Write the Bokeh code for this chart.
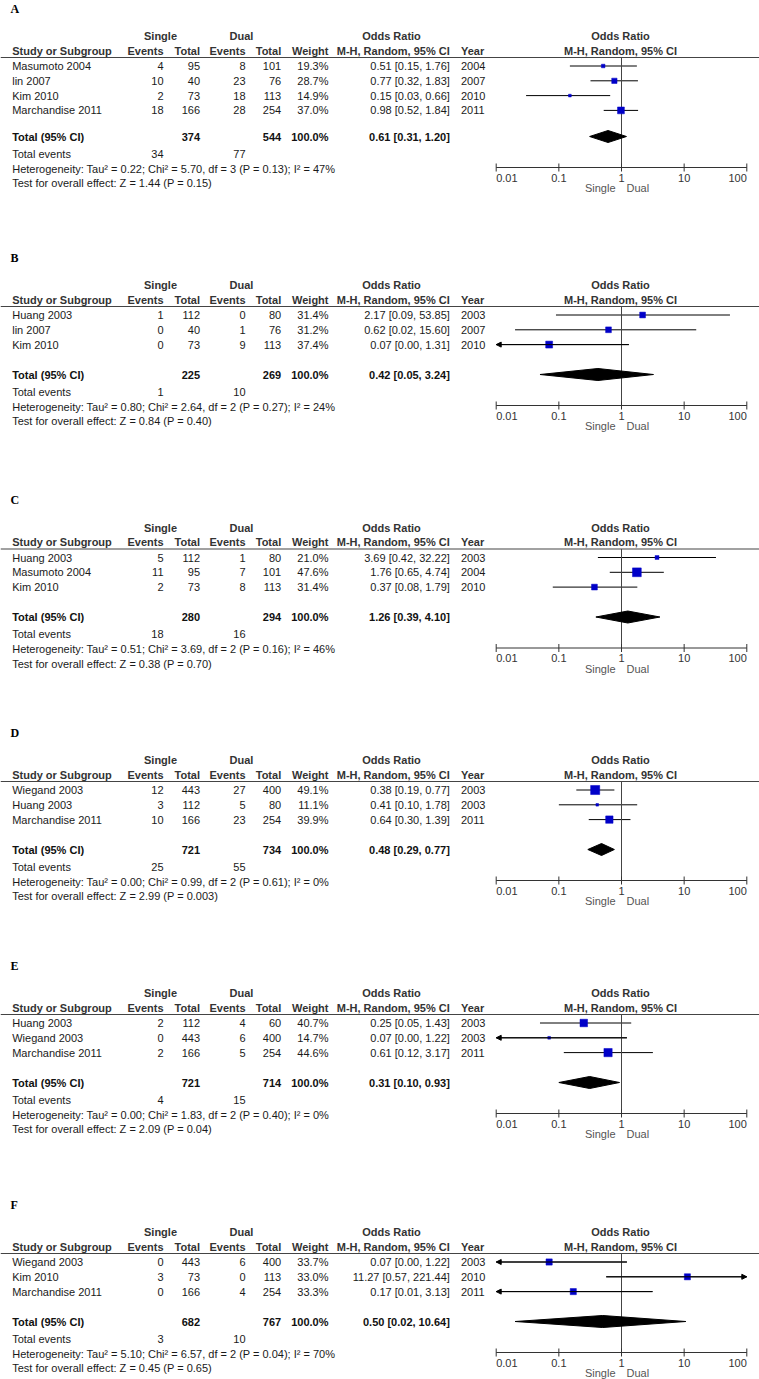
from bokeh.plotting import figure
from bokeh.models import Range1d, LogScale, ColumnDataSource, Arrow, NormalHead
from bokeh.core.properties import value
from bokeh.embed import file_html
from bokeh.resources import INLINE

# ---------------- data ----------------
# Panel A
A_study = ["Masumoto 2004", "lin 2007", "Kim 2010", "Marchandise 2011"]
A_ev_single = [4, 10, 2, 18]
A_tot_single = [95, 40, 73, 166]
A_ev_dual = [8, 23, 18, 28]
A_tot_dual = [101, 76, 113, 254]
A_weight = [19.3, 28.7, 14.9, 37.0]
A_or = [0.51, 0.77, 0.15, 0.98]
A_lo = [0.15, 0.32, 0.03, 0.52]
A_hi = [1.76, 1.83, 0.66, 1.84]
A_year = [2004, 2007, 2010, 2011]
A_totals = [374, 544]
A_pooled = [0.61, 0.31, 1.20]
A_events = [34, 77]
A_het = "Heterogeneity: Tau\u00b2 = 0.22; Chi\u00b2 = 5.70, df = 3 (P = 0.13); I\u00b2 = 47%"
A_test = "Test for overall effect: Z = 1.44 (P = 0.15)"

# Panel B
B_study = ["Huang 2003", "lin 2007", "Kim 2010"]
B_ev_single = [1, 0, 0]
B_tot_single = [112, 40, 73]
B_ev_dual = [0, 1, 9]
B_tot_dual = [80, 76, 113]
B_weight = [31.4, 31.2, 37.4]
B_or = [2.17, 0.62, 0.07]
B_lo = [0.09, 0.02, 0.00]
B_hi = [53.85, 15.60, 1.31]
B_year = [2003, 2007, 2010]
B_totals = [225, 269]
B_pooled = [0.42, 0.05, 3.24]
B_events = [1, 10]
B_het = "Heterogeneity: Tau\u00b2 = 0.80; Chi\u00b2 = 2.64, df = 2 (P = 0.27); I\u00b2 = 24%"
B_test = "Test for overall effect: Z = 0.84 (P = 0.40)"

# Panel C
C_study = ["Huang 2003", "Masumoto 2004", "Kim 2010"]
C_ev_single = [5, 11, 2]
C_tot_single = [112, 95, 73]
C_ev_dual = [1, 7, 8]
C_tot_dual = [80, 101, 113]
C_weight = [21.0, 47.6, 31.4]
C_or = [3.69, 1.76, 0.37]
C_lo = [0.42, 0.65, 0.08]
C_hi = [32.22, 4.74, 1.79]
C_year = [2003, 2004, 2010]
C_totals = [280, 294]
C_pooled = [1.26, 0.39, 4.10]
C_events = [18, 16]
C_het = "Heterogeneity: Tau\u00b2 = 0.51; Chi\u00b2 = 3.69, df = 2 (P = 0.16); I\u00b2 = 46%"
C_test = "Test for overall effect: Z = 0.38 (P = 0.70)"

# Panel D
D_study = ["Wiegand 2003", "Huang 2003", "Marchandise 2011"]
D_ev_single = [12, 3, 10]
D_tot_single = [443, 112, 166]
D_ev_dual = [27, 5, 23]
D_tot_dual = [400, 80, 254]
D_weight = [49.1, 11.1, 39.9]
D_or = [0.38, 0.41, 0.64]
D_lo = [0.19, 0.10, 0.30]
D_hi = [0.77, 1.78, 1.39]
D_year = [2003, 2003, 2011]
D_totals = [721, 734]
D_pooled = [0.48, 0.29, 0.77]
D_events = [25, 55]
D_het = "Heterogeneity: Tau\u00b2 = 0.00; Chi\u00b2 = 0.99, df = 2 (P = 0.61); I\u00b2 = 0%"
D_test = "Test for overall effect: Z = 2.99 (P = 0.003)"

# Panel E
E_study = ["Huang 2003", "Wiegand 2003", "Marchandise 2011"]
E_ev_single = [2, 0, 2]
E_tot_single = [112, 443, 166]
E_ev_dual = [4, 6, 5]
E_tot_dual = [60, 400, 254]
E_weight = [40.7, 14.7, 44.6]
E_or = [0.25, 0.07, 0.61]
E_lo = [0.05, 0.00, 0.12]
E_hi = [1.43, 1.22, 3.17]
E_year = [2003, 2003, 2011]
E_totals = [721, 714]
E_pooled = [0.31, 0.10, 0.93]
E_events = [4, 15]
E_het = "Heterogeneity: Tau\u00b2 = 0.00; Chi\u00b2 = 1.83, df = 2 (P = 0.40); I\u00b2 = 0%"
E_test = "Test for overall effect: Z = 2.09 (P = 0.04)"

# Panel F
F_study = ["Wiegand 2003", "Kim 2010", "Marchandise 2011"]
F_ev_single = [0, 3, 0]
F_tot_single = [443, 73, 166]
F_ev_dual = [6, 0, 4]
F_tot_dual = [400, 113, 254]
F_weight = [33.7, 33.0, 33.3]
F_or = [0.07, 11.27, 0.17]
F_lo = [0.00, 0.57, 0.01]
F_hi = [1.22, 221.44, 3.13]
F_year = [2003, 2010, 2011]
F_totals = [682, 767]
F_pooled = [0.50, 0.02, 10.64]
F_events = [3, 10]
F_het = "Heterogeneity: Tau\u00b2 = 5.10; Chi\u00b2 = 6.57, df = 2 (P = 0.04); I\u00b2 = 70%"
F_test = "Test for overall effect: Z = 0.45 (P = 0.65)"

AXIS_TICKS = [0.01, 0.1, 1, 10, 100]
AXIS_LABELS = ["0.01", "0.1", "1", "10", "100"]
GROUP_LEFT = "Single"
GROUP_RIGHT = "Dual"

PANELS = [
    ("A", A_study, A_ev_single, A_tot_single, A_ev_dual, A_tot_dual, A_weight, A_or, A_lo, A_hi, A_year, A_totals, A_pooled, A_events, A_het, A_test),
    ("B", B_study, B_ev_single, B_tot_single, B_ev_dual, B_tot_dual, B_weight, B_or, B_lo, B_hi, B_year, B_totals, B_pooled, B_events, B_het, B_test),
    ("C", C_study, C_ev_single, C_tot_single, C_ev_dual, C_tot_dual, C_weight, C_or, C_lo, C_hi, C_year, C_totals, C_pooled, C_events, C_het, C_test),
    ("D", D_study, D_ev_single, D_tot_single, D_ev_dual, D_tot_dual, D_weight, D_or, D_lo, D_hi, D_year, D_totals, D_pooled, D_events, D_het, D_test),
    ("E", E_study, E_ev_single, E_tot_single, E_ev_dual, E_tot_dual, E_weight, E_or, E_lo, E_hi, E_year, E_totals, E_pooled, E_events, E_het, E_test),
    ("F", F_study, F_ev_single, F_tot_single, F_ev_dual, F_tot_dual, F_weight, F_or, F_lo, F_hi, F_year, F_totals, F_pooled, F_events, F_het, F_test),
]

# ---------------- layout ----------------
W, H = 759, 1379
PANEL_LINE_Y = [57, 306, 548.5, 781, 1014, 1253]
X_OR_MIN_PX = 495.7          # pixel position of 0.01
DECADE_PX = 62.65            # pixels per decade
log_start = 10 ** (-2 - X_OR_MIN_PX / DECADE_PX)
log_end = 10 ** (-2 + (W - X_OR_MIN_PX) / DECADE_PX)

p = figure(width=W, height=H, x_range=Range1d(0, W), y_range=Range1d(H, 0),
           output_backend="svg", toolbar_location=None, min_border=0,
           x_axis_location=None, y_axis_location=None)
p.grid.visible = False
p.outline_line_color = None
p.background_fill_color = "white"
p.extra_x_ranges = {"or": Range1d(log_start, log_end)}
p.extra_x_scales = {"or": LogScale()}

FONT = "Liberation Sans"
texts = {}


def add_text(x, y, s, align="left", bold=False, color="#1a1a1a", size="11px",
             font=FONT, rng="default"):
    key = (align, bold, color, size, font, rng)
    d = texts.setdefault(key, {"x": [], "y": [], "t": []})
    d["x"].append(x)
    d["y"].append(y)
    d["t"].append(s)


# column positions
X_NAME = 11.7
X_EV1 = 163
X_TOT1 = 199.5
X_EV2 = 245
X_TOT2 = 280.7
X_W = 328
X_CI = 449.3
X_YEAR = 460.5
X_OR_HDR = 391
X_FOREST_HDR = 620
HDR = "#333333"
BLUE = "#0000C8"

seg = {"x0": [], "y0": [], "x1": [], "y1": []}          # linear segments
lseg = {"x0": [], "y0": [], "x1": [], "y1": [], "c": []}  # log-x segments
sq = {"x": [], "y": [], "s": []}
dia_x, dia_y = [], []
arrows = []

for idx, (letter, study, ev1, tot1, ev2, tot2, wt, orv, lo, hi, year, totals,
          pooled, events, het, test) in enumerate(PANELS):
    L = PANEL_LINE_Y[idx]
    n = len(study)
    rs = 14.8
    sh = (n - 3) * 11
    y_total = L + 68 + sh
    y_te = L + 85 + sh
    y_het = L + 100 + sh
    y_test = L + 114.5 + sh
    y_axis = L + 99 + sh
    y_lab = L + 109 + sh
    y_sd = L + 119.5 + sh

    add_text(10, L - 49, letter, bold=True, color="#000000", size="12px",
             font="Liberation Serif")
    # header
    y1, y2 = L - 21.5, L - 7
    add_text(160, y1, GROUP_LEFT, align="center", bold=True, color=HDR)
    add_text(241, y1, GROUP_RIGHT, align="center", bold=True, color=HDR)
    add_text(X_OR_HDR, y1, "Odds Ratio", align="center", bold=True, color=HDR)
    add_text(X_FOREST_HDR, y1, "Odds Ratio", align="center", bold=True, color=HDR)
    add_text(X_NAME, y2, "Study or Subgroup", bold=True, color=HDR)
    add_text(X_EV1, y2, "Events", align="right", bold=True, color=HDR)
    add_text(X_TOT1, y2, "Total", align="right", bold=True, color=HDR)
    add_text(X_EV2, y2, "Events", align="right", bold=True, color=HDR)
    add_text(X_TOT2, y2, "Total", align="right", bold=True, color=HDR)
    add_text(X_W, y2, "Weight", align="right", bold=True, color=HDR)
    add_text(X_CI, y2, "M-H, Random, 95% CI", align="right", bold=True, color=HDR)
    add_text(X_YEAR, y2, "Year", bold=True, color=HDR)
    add_text(X_FOREST_HDR, y2, "M-H, Random, 95% CI", align="center", bold=True, color=HDR)
    seg["x0"].append(0); seg["x1"].append(W); seg["y0"].append(L); seg["y1"].append(L)

    for i in range(n):
        y = L + 8.5 + rs * i
        add_text(X_NAME, y, study[i])
        add_text(X_EV1, y, str(ev1[i]), align="right")
        add_text(X_TOT1, y, str(tot1[i]), align="right")
        add_text(X_EV2, y, str(ev2[i]), align="right")
        add_text(X_TOT2, y, str(tot2[i]), align="right")
        add_text(X_W, y, f"{wt[i]:.1f}%", align="right")
        add_text(X_CI, y, f"{orv[i]:.2f} [{lo[i]:.2f}, {hi[i]:.2f}]", align="right")
        add_text(X_YEAR, y, str(year[i]))
        a = max(lo[i], 0.01)
        b = min(hi[i], 100)
        lseg["x0"].append(a); lseg["x1"].append(b)
        lseg["y0"].append(y); lseg["y1"].append(y); lseg["c"].append("#000000")
        if lo[i] <= 0.01:
            arrows.append((b, 0.01, y))
        if hi[i] >= 100:
            arrows.append((a, 100, y))
        sq["x"].append(orv[i]); sq["y"].append(y); sq["s"].append(max(2.6, 0.185 * wt[i]))

    # totals
    add_text(X_NAME, y_total, "Total (95% CI)", bold=True, color="#111111")
    add_text(X_TOT1, y_total, str(totals[0]), align="right", bold=True, color="#111111")
    add_text(X_TOT2, y_total, str(totals[1]), align="right", bold=True, color="#111111")
    add_text(X_W, y_total, "100.0%", align="right", bold=True, color="#111111")
    add_text(X_CI, y_total, f"{pooled[0]:.2f} [{pooled[1]:.2f}, {pooled[2]:.2f}]",
             align="right", bold=True, color="#111111")
    add_text(X_NAME, y_te, "Total events")
    add_text(X_EV1, y_te, str(events[0]), align="right")
    add_text(X_EV2, y_te, str(events[1]), align="right")
    add_text(X_NAME, y_het, het)
    add_text(X_NAME, y_test, test)

    dia_x.append([pooled[1], pooled[0], pooled[2], pooled[0]])
    dia_y.append([y_total, y_total - 6, y_total, y_total + 6])

    # reference line at 1
    lseg["x0"].append(1); lseg["x1"].append(1)
    lseg["y0"].append(L); lseg["y1"].append(y_axis); lseg["c"].append("#444444")
    # axis
    lseg["x0"].append(AXIS_TICKS[0]); lseg["x1"].append(AXIS_TICKS[-1])
    lseg["y0"].append(y_axis); lseg["y1"].append(y_axis); lseg["c"].append("#333333")
    for k, t in enumerate(AXIS_TICKS):
        lseg["x0"].append(t); lseg["x1"].append(t)
        lseg["y0"].append(y_axis - 4); lseg["y1"].append(y_axis + 4); lseg["c"].append("#333333")
        al = "left" if k == 0 else ("right" if k == len(AXIS_TICKS) - 1 else "center")
        add_text(t, y_lab, AXIS_LABELS[k], align=al, color="#333333", rng="or")
    add_text(615, y_sd, GROUP_LEFT, align="right", color="#555555")
    add_text(626, y_sd, GROUP_RIGHT, align="left", color="#555555")

# ---------------- draw ----------------
p.segment(x0="x0", y0="y0", x1="x1", y1="y1", source=ColumnDataSource(seg),
          line_color="#444444", line_width=1.2)
p.segment(x0="x0", y0="y0", x1="x1", y1="y1", source=ColumnDataSource(lseg),
          line_color="c", line_width=1, x_range_name="or")
for (xs, xe, y) in arrows:
    p.add_layout(Arrow(x_start=xs, y_start=y, x_end=xe, y_end=y, line_color="black",
                       line_width=1, x_range_name="or",
                       end=NormalHead(size=5, fill_color="black", line_color="black",
                                      line_width=1)))
p.scatter(x="x", y="y", size="s", marker="square", source=ColumnDataSource(sq),
          fill_color=BLUE, line_color=BLUE, line_width=0.5, x_range_name="or")
p.patches(xs=dia_x, ys=dia_y, fill_color="black", line_color="black", x_range_name="or")

for (align, bold, color, size, font, rng), d in texts.items():
    kw = {}
    if rng != "default":
        kw["x_range_name"] = rng
    p.text(x="x", y="y", text="t", source=ColumnDataSource(d), text_align=align,
           text_baseline="middle", text_font=value(font),
           text_font_style="bold" if bold else "normal", text_color=color,
           text_font_size=size, **kw)

open("out.html", "w").write(file_html(p, INLINE))
